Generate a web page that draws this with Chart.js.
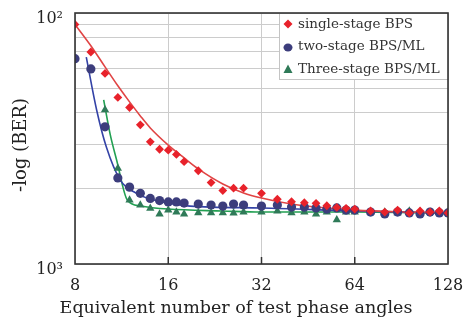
<!DOCTYPE html>
<html>
<head>
<meta charset="utf-8">
<script src="https://cdn.jsdelivr.net/npm/chart.js@4/dist/chart.umd.min.js"></script>
<style>
html,body{margin:0;padding:0;background:#fff;}
canvas{display:block;}
</style>
</head>
<body>
<canvas id="c" width="467" height="323" style="width:467px;height:323px"></canvas>
<script>
// ---- data ----
const xTicks = [8, 16, 32, 64, 128];
const yTicks = [100, 111.1, 125, 142.9, 166.7, 200, 250, 333.3, 500, 1000];
const yTickLabels = {100: '10\u00B2', 1000: '10\u00B3'};
const xTitle = 'Equivalent number of test phase angles';
const yTitle = '-log (BER)';

const xSingle = [8,9,10,11,12,13,14,15,16,17,18,20,22,24,26,28,32,36,40,44,48,52,56,60,64,72,80,88,96,104,112,120,128];
const singleVals = [111,143,174,217,238,279,326,349,352,366,391,425,474,510,499,499,523,552,565,570,573,586,595,600,604,615,621,610,626,615,621,615,626];

const xTwo = [8,9,10,11,12,13,14,15,16,17,18,20,22,24,26,28,32,36,40,44,48,52,56,60,64,72,80,88,96,104,112,120,128];
const twoVals = [152,167,284,454,494,523,548,559,566,566,572,577,582,588,577,582,588,582,593,593,598,604,598,610,610,621,632,621,626,632,621,626,626];

const xThree = [10,11,12,13,14,15,16,17,18,20,22,24,26,28,32,36,40,44,48,52,56,60,64,72,80,88,96,104,112,120,128];
const threeVals = [243,416,556,582,600,632,610,621,632,625,625,625,627,621,621,615,626,621,632,621,667,621,621,621,621,626,615,621,621,621,621];

const xSingleFit = [8,9,10,11,12,13,14,16,18,20,24,28,32,40,48,64,96,128];
const singleFit = [111,135,164,195,226,257,287,336,378,418,480,521,546,577,593,610,621,626];

const xTwoFit = [8.7,9.4,10.1,11.2,12.6,14,18.8,32,64,128];
const twoFit = [150,244,342,463,522,551,588,598,615,626];

const xThreeFit = [9.9,10.4,10.9,11.8,13,16,24,32,64,128];
const threeFit = [222,306,385,556,587,604,615,621,621,626];

const seriesNames = ['single-stage BPS', 'two-stage BPS/ML', 'Three-stage BPS/ML'];

// ---- styles ----
const RED = '#e8222b', RED_LINE = '#e04444';
const BLUE = '#3c3d7c', BLUE_LINE = '#3342a6';
const GREEN = '#2f7a58', GREEN_LINE = '#22a052';
const SERIF = "'DejaVu Serif', 'Liberation Serif', serif";

const pts = (xs, ys) => xs.map((x, i) => ({x: x, y: ys[i]}));

const fitDs = (xs, ys, color) => ({
  type: 'line', data: pts(xs, ys), borderColor: color, borderWidth: 1.6,
  pointRadius: 0, fill: false, cubicInterpolationMode: 'monotone', order: 5
});
const markDs = (xs, ys, color, style, r) => ({
  type: 'scatter', data: pts(xs, ys), backgroundColor: color, borderColor: color,
  borderWidth: 0, pointStyle: style, pointRadius: r, showLine: false, order: 1
});

const frame = {
  id: 'frame',
  afterDraw(chart) {
    const {ctx, chartArea: a} = chart;
    const xs = chart.scales.x;
    ctx.save();
    // inner ticks on x axis
    ctx.strokeStyle = '#333'; ctx.lineWidth = 1.5;
    [16, 32, 64].forEach(v => {
      const px = xs.getPixelForValue(v);
      ctx.beginPath(); ctx.moveTo(px, a.bottom); ctx.lineTo(px, a.bottom - 7); ctx.stroke();
    });
    // x axis title
    ctx.fillStyle = '#222';
    ctx.font = '17.5px ' + SERIF; ctx.textAlign = 'center'; ctx.textBaseline = 'middle';
    ctx.fillText(xTitle, 236, 308);
    // y axis title
    ctx.save();
    ctx.translate(21, 145); ctx.rotate(-Math.PI / 2);
    ctx.font = '18px ' + SERIF;
    ctx.fillText(yTitle, 0, 0);
    ctx.restore();
    // legend
    const lx = 279, ly = a.top, lw = a.right - 279, lh = 66;
    ctx.fillStyle = '#fff'; ctx.fillRect(lx, ly, lw, lh);
    ctx.strokeStyle = '#c4c4c4'; ctx.lineWidth = 1;
    ctx.strokeRect(lx + 0.5, ly + 0.5, lw, lh);
    const rows = [11, 33.5, 56];
    const cols = [RED, BLUE, GREEN];
    ctx.font = '13.5px ' + SERIF; ctx.textBaseline = 'middle'; ctx.textAlign = 'left';
    rows.forEach((dy, i) => {
      const cx = 288, cy = ly + dy;
      ctx.fillStyle = cols[i];
      ctx.beginPath();
      if (i === 0) { ctx.moveTo(cx, cy - 4.5); ctx.lineTo(cx + 4.5, cy); ctx.lineTo(cx, cy + 4.5); ctx.lineTo(cx - 4.5, cy); ctx.closePath(); }
      else if (i === 1) { ctx.ellipse(cx, cy + 1, 4.5, 4, 0, 0, Math.PI * 2); }
      else { ctx.moveTo(cx, cy - 4.5); ctx.lineTo(cx + 4.5, cy + 4); ctx.lineTo(cx - 4.5, cy + 4); ctx.closePath(); }
      ctx.fill();
      ctx.fillStyle = '#333';
      ctx.fillText(seriesNames[i], 298, cy);
    });
    // frame
    ctx.strokeStyle = '#333'; ctx.lineWidth = 1.6;
    ctx.strokeRect(a.left, a.top, a.right - a.left, a.bottom - a.top);
    ctx.restore();
  }
};

new Chart(document.getElementById('c'), {
  type: 'scatter',
  data: {
    datasets: [
      markDs(xSingle, singleVals, RED, 'rectRot', 4.4),
      markDs(xTwo, twoVals, BLUE, 'circle', 4.6),
      markDs(xThree, threeVals, GREEN, 'triangle', 4.8),
      fitDs(xSingleFit, singleFit, RED_LINE),
      fitDs(xTwoFit, twoFit, BLUE_LINE),
      fitDs(xThreeFit, threeFit, GREEN_LINE)
    ]
  },
  options: {
    responsive: false,
    animation: false,
    devicePixelRatio: 1,
    layout: {padding: {top: 13, right: 19, left: 0, bottom: 0}},
    plugins: {legend: {display: false}, tooltip: {enabled: false}},
    scales: {
      x: {
        type: 'logarithmic', min: 8, max: 128,
        afterBuildTicks: s => { s.ticks = xTicks.map(v => ({value: v})); },
        afterFit: s => { s.height = 59; s.paddingLeft = 0; s.paddingRight = 0; },
        ticks: {
          autoSkip: false, maxRotation: 0, padding: 12, color: '#222',
          font: {family: SERIF, size: 16},
          callback: v => String(v)
        },
        grid: {color: '#cccccc', lineWidth: 1, drawTicks: false},
        border: {display: false},
        title: {display: false, text: xTitle}
      },
      y: {
        type: 'logarithmic', reverse: true, min: 100, max: 1000,
        afterBuildTicks: s => { s.ticks = yTicks.map(v => ({value: v})); },
        afterFit: s => { s.width = 75; s.paddingTop = 0; s.paddingBottom = 0; },
        ticks: {
          autoSkip: false, padding: 12, color: '#222', labelOffset: 6,
          font: {family: SERIF, size: 16},
          callback: v => (yTickLabels[v] !== undefined ? yTickLabels[v] : '')
        },
        grid: {color: '#cccccc', lineWidth: 1, drawTicks: false},
        border: {display: false},
        title: {display: false, text: yTitle}
      }
    }
  },
  plugins: [frame]
});
</script>
</body>
</html>
